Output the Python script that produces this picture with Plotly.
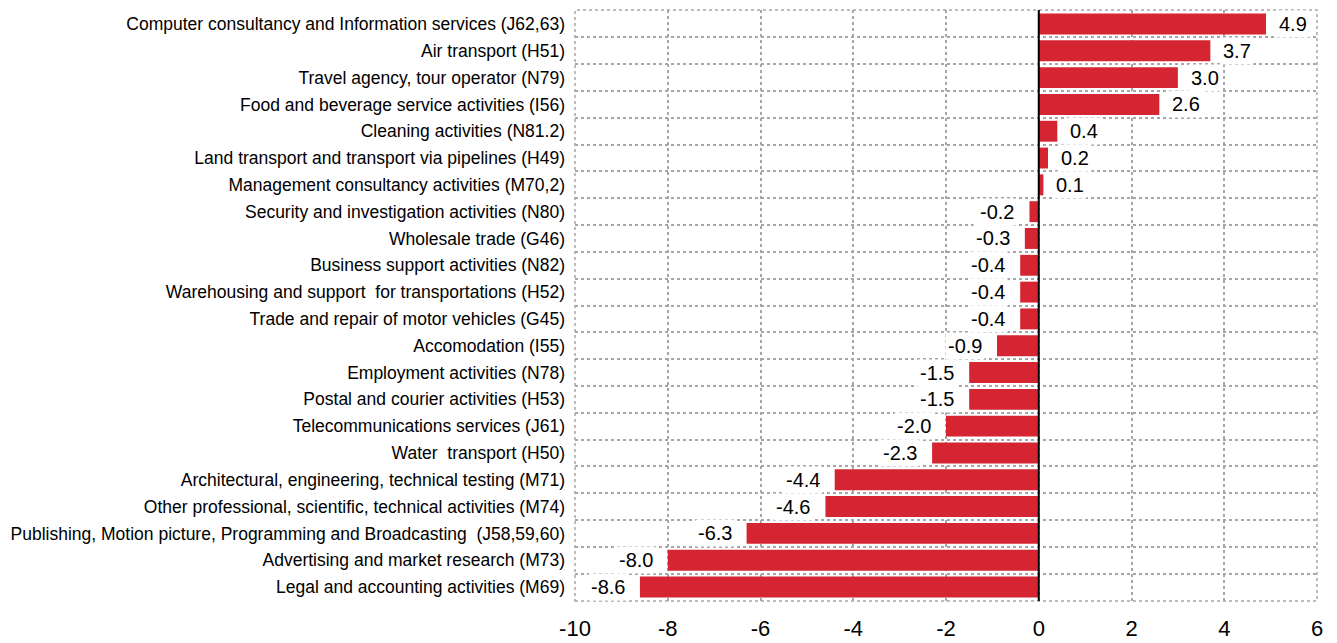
import plotly.graph_objects as go

categories = [
    "Computer consultancy and Information services (J62,63)",
    "Air transport (H51)",
    "Travel agency, tour operator (N79)",
    "Food and beverage service activities (I56)",
    "Cleaning activities (N81.2)",
    "Land transport and transport via pipelines (H49)",
    "Management consultancy activities (M70,2)",
    "Security and investigation activities (N80)",
    "Wholesale trade (G46)",
    "Business support activities (N82)",
    "Warehousing and support  for transportations (H52)",
    "Trade and repair of motor vehicles (G45)",
    "Accomodation (I55)",
    "Employment activities (N78)",
    "Postal and courier activities (H53)",
    "Telecommunications services (J61)",
    "Water  transport (H50)",
    "Architectural, engineering, technical testing (M71)",
    "Other professional, scientific, technical activities (M74)",
    "Publishing, Motion picture, Programming and Broadcasting  (J58,59,60)",
    "Advertising and market research (M73)",
    "Legal and accounting activities (M69)",
]
values = [4.9, 3.7, 3.0, 2.6, 0.4, 0.2, 0.1, -0.2, -0.3, -0.4, -0.4, -0.4,
          -0.9, -1.5, -1.5, -2.0, -2.3, -4.4, -4.6, -6.3, -8.0, -8.6]
x_ticks = [-10, -8, -6, -4, -2, 0, 2, 4, 6]
x_tick_labels = ["-10", "-8", "-6", "-4", "-2", "0", "2", "4", "6"]

FONT = "Liberation Sans Narrow, Arial Narrow, Liberation Sans, Arial, sans-serif"
BAR = "#D52532"
GRID = "#A6A6A6"

fig = go.Figure(go.Bar(
    x=values, y=categories, orientation="h",
    marker=dict(color=BAR, line=dict(width=0)),
    width=0.78,
))

for c, v in zip(categories, values):
    fig.add_annotation(
        x=v, y=c, xref="x", yref="y",
        text=f"{v:.1f}", showarrow=False,
        xanchor="left" if v >= 0 else "right",
        xshift=10 if v >= 0 else -12,
        bgcolor="white", borderpad=2,
        font=dict(family=FONT, size=20, color="black"),
    )

fig.add_shape(type="line", xref="x", yref="paper", x0=0, x1=0, y0=0, y1=1,
              line=dict(color="black", width=2), layer="above")
fig.add_shape(type="rect", xref="paper", yref="paper", x0=0, x1=1, y0=0, y1=1,
              line=dict(color=GRID, width=1.5, dash="dot"), layer="below")

fig.update_layout(
    width=1329, height=635,
    margin=dict(l=567, r=20, t=2, b=42, autoexpand=False),
    paper_bgcolor="white", plot_bgcolor="white",
    showlegend=False,
    font=dict(family=FONT, color="black"),
    xaxis=dict(
        range=[-10, 6], tickvals=x_ticks, ticktext=x_tick_labels,
        showgrid=True, automargin=False,
        gridcolor=GRID, griddash="dot", gridwidth=1.5,
        zeroline=False, showline=False,
        tickfont=dict(family=FONT, size=22, color="black"),
        ticklabelstandoff=12,
    ),
    yaxis=dict(
        type="category", autorange="reversed", automargin=False,
        tickson="boundaries", showgrid=True,
        gridcolor=GRID, griddash="dot", gridwidth=1.5,
        showline=False, ticks="",
        tickfont=dict(family=FONT, size=17.5, color="black"),
        ticklabelstandoff=9,
    ),
)

fig.write_html("out.html")
